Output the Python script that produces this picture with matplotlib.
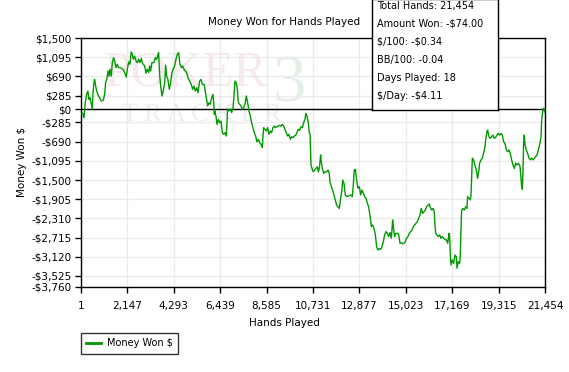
import numpy as np
import matplotlib
matplotlib.use("Agg")
import matplotlib.pyplot as plt

# Hands played vs cumulative money won ($)
hands = [1, 80, 140, 200, 260, 320, 370, 415, 480, 525, 555, 600, 630, 680, 725, 815, 940, 1030,
         1095, 1140, 1200, 1250, 1295, 1340, 1400, 1450, 1510, 1555, 1620, 1680, 1740, 1835, 1940,
         2020, 2095, 2140, 2205, 2265, 2325, 2375, 2420, 2480, 2545, 2605, 2665, 2730, 2790, 2850,
         2945, 3005, 3065, 3130, 3175, 3220, 3280, 3375, 3435, 3500, 3560, 3590, 3635, 3685, 3745,
         3805, 3870, 3915, 3960, 4020, 4085, 4145, 4205, 4270, 4330, 4390, 4455, 4515, 4575, 4640,
         4700, 4760, 4825, 4885, 4945, 5025, 5100, 5160, 5225, 5285, 5345, 5410,
         5485, 5550, 5610, 5700, 5765, 5825, 5855, 5920, 5980, 6040, 6105, 6135, 6165, 6195, 6240,
         6290, 6350, 6410, 6475, 6535, 6595, 6660, 6720, 6750, 6780, 6845, 6905, 6965, 7030, 7075,
         7120, 7180, 7230, 7275, 7335, 7400, 7460, 7520, 7580, 7645, 7705, 7765, 7830, 7890, 7950,
         8015, 8075, 8135, 8200, 8260, 8320, 8385, 8415, 8445, 8505, 8570, 8630, 8690, 8755, 8815,
         8875, 8940, 9000, 9060, 9125, 9185, 9245, 9310, 9370, 9430, 9495, 9555, 9615, 9680, 9740,
         9800, 9865, 9925, 9985, 10050, 10110, 10170, 10235, 10295, 10355, 10400, 10450, 10510,
         10555, 10590,
         10635, 10680, 10740, 10805, 10865, 10925, 10975, 11020, 11080, 11110, 11175, 11235, 11295,
         11360, 11420, 11480, 11510, 11575, 11635, 11695, 11760, 11820, 11880, 11945, 12005, 12065,
         12100, 12160, 12220, 12285, 12375, 12470, 12545, 12590, 12635, 12685, 12745, 12805, 12870,
         12930, 12990, 13055, 13115, 13175, 13240, 13300, 13360, 13425, 13485, 13545, 13610, 13670,
         13730, 13795, 13855, 13915, 13980, 14040, 14100, 14165, 14225, 14285, 14350, 14410, 14440,
         14500, 14565, 14625, 14685, 14750, 14810, 14870, 14935, 14995, 15055, 15120, 15180, 15240,
         15305, 15365, 15425, 15490, 15550, 15610, 15675, 15735, 15795, 15860, 15920, 15980, 16045,
         16105, 16135,
         16215, 16275, 16335, 16365, 16400, 16460, 16520, 16585, 16645, 16705, 16770, 16830, 16890,
         16955, 17015, 17045, 17075, 17105, 17170, 17230, 17290, 17355, 17385, 17445, 17510, 17540,
         17570, 17600, 17660, 17725, 17785, 17845, 17875, 17940, 18000, 18030, 18060, 18095, 18155,
         18215, 18280, 18340, 18400, 18430, 18495, 18555, 18615, 18680, 18710, 18770, 18800, 18865,
         18925, 18985, 19050, 19110, 19170, 19235, 19295, 19355, 19420, 19480, 19540, 19605, 19665,
         19725, 19790, 19850, 19910, 19975, 20035, 20095, 20160, 20220, 20280, 20310, 20345, 20375,
         20390, 20405, 20435, 20465, 20495, 20530, 20590, 20650, 20715, 20775, 20835, 20900, 20960,
         21020, 21085, 21145, 21205, 21270, 21300, 21360, 21390, 21420, 21454]
won = [-110, -90, -185, 135, 310, 380, 205, 240, 100, 5, 345, 555, 625, 485, 380, 275, 170, 185,
       310, 555, 640, 805, 695, 840, 695, 980, 1085, 1015, 875, 945, 875, 870, 840,
       770, 675, 840, 995, 945, 1205, 1155, 1050, 1120, 1015, 980, 1050, 980, 1065, 960,
       910, 755, 840, 770, 910, 805, 980, 980, 1085, 1050, 1155, 1190, 730, 485, 275,
       380, 555, 925, 695, 625, 415, 555, 770, 840, 910, 1050, 1155, 1190, 945, 875,
       910, 840, 805, 770, 660, 590, 520, 415, 485, 380, 450, 345,
       590, 625, 520, 520, 310, 170, 65, 135, 100, 240, 310, 135, -110, -40, -150,
       -325, -220, -290, -255, -500, -535, -500, -570, -290, -5, -40, -5, -75, 30, 275,
       590, 555, 415, 135, 100, 65, -5, 30, 100, 275, 135, -40, -150, -290, -395,
       -500, -570, -695, -640, -710, -745, -815, -570, -395, -430, -465, -395, -535, -465, -500,
       -395, -360, -395, -375, -360, -345, -360, -325, -360, -430, -500, -570, -535, -640, -585,
       -605, -570, -555, -500, -430, -450, -375, -395, -290, -220, -90, -150, -290,
       -500, -520,
       -1185, -1255, -1325, -1290, -1255, -1220, -1325, -1255, -970, -1110, -1290, -1360, -1325,
       -1325, -1290, -1360, -1535, -1640, -1710, -1815, -1920, -2030, -2065, -2100, -1885, -1710,
       -1500, -1570, -1815, -1850, -1835, -1815, -1850, -1605, -1290, -1275, -1500, -1675, -1640,
       -1815, -1710, -1780, -1850, -1885, -1990, -2065, -2240, -2485, -2450, -2520, -2660, -2910,
       -2980, -2945, -2965, -2910, -2800, -2660, -2590, -2625, -2695, -2610, -2730, -2345, -2485,
       -2695, -2625, -2625, -2640, -2835, -2825, -2850, -2835, -2800, -2730, -2695, -2625, -2590,
       -2555, -2485, -2450, -2415, -2380, -2310, -2240, -2100, -2205, -2170, -2135, -2065, -2030,
       -2005, -2065,
       -2135, -2100, -2170, -2450, -2625, -2660, -2695, -2660, -2730, -2695, -2730, -2755, -2765,
       -2835, -2625, -2695, -3050, -3295, -3190, -3260, -3085, -3120, -3365, -3225, -3260, -3085,
       -2520, -2135, -2100, -2135, -2065, -2100, -1850, -1885, -1920, -1850, -1500, -1040, -1075,
       -1185, -1290, -1465, -1290, -1145, -1075, -1040, -935, -795, -655, -480, -445, -585,
       -620, -585, -550, -620, -600, -550, -515, -550, -515, -550, -690, -725, -865,
       -900, -865, -935, -1075, -1185, -1255, -1145, -1185, -1145, -1185, -1255, -1465, -1640,
       -1500, -1695, -1325, -725, -550, -760, -865, -935, -1040, -1075, -1040, -1075, -1040,
       -1005, -970, -865, -760, -585, -230, -20, 15, -20, -74]

x_ticks = [1, 2147, 4293, 6439, 8585, 10731, 12877, 15023, 17169, 19315, 21454]
y_ticks = [1500, 1095, 690, 285, 0, -285, -690, -1095, -1500, -1905, -2310, -2715, -3120, -3525, -3760]

stats = ["Total Hands: 21,454", "Amount Won: -\\$74.00", "\\$/100: -\\$0.34",
         "BB/100: -0.04", "Days Played: 18", "\\$/Day: -\\$4.11"]


def money(v):
    s = "${:,}".format(abs(v))
    return "-" + s if v < 0 else s


fig = plt.figure(figsize=(5.69, 3.72), dpi=100)
ax = fig.add_axes([81 / 569, 1 - 287 / 372, 464 / 569, 249 / 372])

# faint watermark
ax.text(0.225, 0.86, "POKER", transform=ax.transAxes, ha="center", va="center",
        fontsize=36, family="Liberation Serif", color="#f6eaea", zorder=0)
ax.text(0.26, 0.69, "T R A C K E R", transform=ax.transAxes, ha="center", va="center",
        fontsize=19, family="Liberation Serif", color="#eeeeee", zorder=0)
ax.text(0.45, 0.81, "3", transform=ax.transAxes, ha="center", va="center",
        fontsize=48, family="Liberation Serif", color="#e6efe6", zorder=0)

ax.plot(hands, won, color="#009900", lw=1.0, zorder=3)
ax.axhline(0, color="black", lw=1.0, zorder=2)

ax.set_xlim(1, 21454)
ax.set_ylim(-3760, 1500)
ax.set_xticks(x_ticks)
ax.set_xticklabels(["{:,}".format(t) for t in x_ticks])
ax.set_yticks(y_ticks)
ax.set_yticklabels([money(t) for t in y_ticks])
ax.grid(True, color="#ebebeb", lw=1.0, zorder=1)
ax.set_axisbelow(True)
ax.tick_params(labelsize=7.5, length=4, width=1, pad=3, colors="black")
ax.tick_params(axis="x", pad=6)
for s in ax.spines.values():
    s.set_linewidth(1.0)

fig.text(284 / 569, 1 - 22 / 372, "Money Won for Hands Played", ha="center", va="center", fontsize=7.5)
fig.text(284 / 569, 1 - 323 / 372, "Hands Played", ha="center", va="center", fontsize=7.5)
fig.text(22 / 569, 1 - 162 / 372, "Money Won $", ha="center", va="center", rotation=90, fontsize=7.5)

# legend box
leg = ax.legend(["Money Won $"], loc="upper left", bbox_to_anchor=(0, (287 - 333) / 249),
                borderaxespad=0, fontsize=7, frameon=True, fancybox=False, handlelength=1.5,
                borderpad=0.55, handletextpad=0.6)
leg.get_frame().set_edgecolor("black")
leg.get_frame().set_linewidth(1.0)
leg.legend_handles[0].set_linewidth(2)

# stats box in the top right
box = fig.add_axes([372 / 569, 1 - 110 / 372, 126 / 569, 111 / 372])
box.set_xticks([])
box.set_yticks([])
box.set_facecolor("white")
for s in box.spines.values():
    s.set_linewidth(1.0)
for i, line in enumerate(stats):
    box.text(5 / 126, 1 - (7 + 18 * i) / 111, line, transform=box.transAxes,
             ha="left", va="center", fontsize=7)

fig.savefig("out.png", dpi=100)
